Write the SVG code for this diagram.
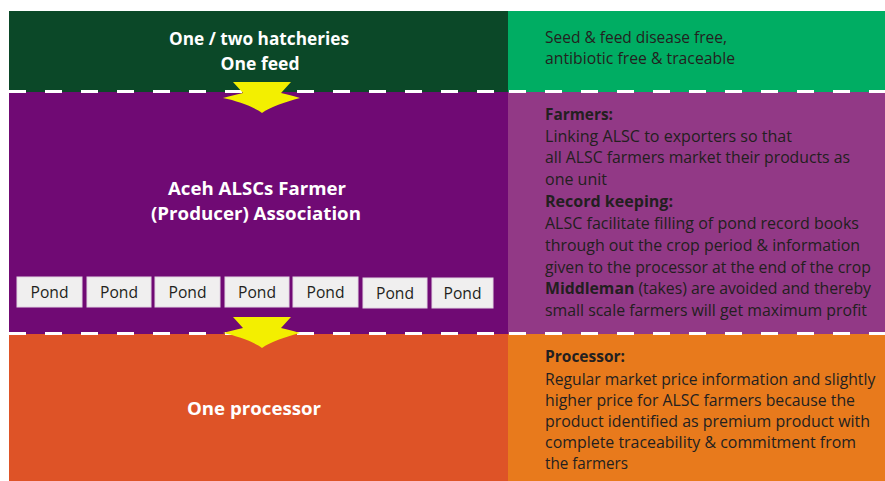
<svg xmlns="http://www.w3.org/2000/svg" width="885" height="481" viewBox="0 0 885 481">
<style>
.h{font-family:"Open Sans","Liberation Sans",sans-serif;font-weight:bold;font-size:18.5px;fill:#ffffff;text-anchor:middle}
.t{font-family:"Open Sans","Liberation Sans",sans-serif;font-size:16.5px;fill:#231f20}
.b{font-weight:bold}
.p{font-family:"Open Sans","Liberation Sans",sans-serif;font-size:16px;fill:#231f20;text-anchor:middle}
.pond{fill:#f0efef;stroke:#e3d5e3;stroke-width:1}
.dash{stroke:#ffffff;stroke-width:3;stroke-dasharray:17 19;fill:none}
.arrow{fill:#f3ef00}
</style>
<rect width="885" height="481" fill="#ffffff"/>
<g id="hatcheries">
<rect x="9" y="11" width="499" height="81" fill="#0b4828"/>
<text class="h" x="259" y="45" textLength="180" lengthAdjust="spacingAndGlyphs">One / two hatcheries</text>
<text class="h" x="260" y="70" textLength="79" lengthAdjust="spacingAndGlyphs">One feed</text>
</g>
<g id="seed-note">
<rect x="508" y="11" width="377" height="81" fill="#00ad63"/>
<text class="t" x="545" y="43" textLength="182" lengthAdjust="spacingAndGlyphs">Seed &amp; feed disease free,</text>
<text class="t" x="545" y="64" textLength="190" lengthAdjust="spacingAndGlyphs">antibiotic free &amp; traceable</text>
</g>
<g id="association">
<rect x="9" y="92" width="499" height="242" fill="#700a74"/>
<text class="h" x="257" y="195" textLength="178" lengthAdjust="spacingAndGlyphs">Aceh ALSCs Farmer</text>
<text class="h" x="256" y="220" textLength="210" lengthAdjust="spacingAndGlyphs">(Producer) Association</text>
</g>
<g id="ponds">
<rect class="pond" x="17" y="277" width="65" height="30"/><text class="p" x="49.5" y="298" textLength="38" lengthAdjust="spacingAndGlyphs">Pond</text>
<rect class="pond" x="87" y="277" width="64" height="30"/><text class="p" x="119" y="298" textLength="38" lengthAdjust="spacingAndGlyphs">Pond</text>
<rect class="pond" x="155" y="277" width="65" height="30"/><text class="p" x="187.5" y="298" textLength="38" lengthAdjust="spacingAndGlyphs">Pond</text>
<rect class="pond" x="225" y="277" width="64" height="30"/><text class="p" x="257" y="298" textLength="38" lengthAdjust="spacingAndGlyphs">Pond</text>
<rect class="pond" x="293" y="277" width="65" height="30"/><text class="p" x="325.5" y="298" textLength="38" lengthAdjust="spacingAndGlyphs">Pond</text>
<rect class="pond" x="363" y="278" width="64" height="30"/><text class="p" x="395" y="299" textLength="38" lengthAdjust="spacingAndGlyphs">Pond</text>
<rect class="pond" x="432" y="278" width="61" height="30"/><text class="p" x="462.5" y="299" textLength="38" lengthAdjust="spacingAndGlyphs">Pond</text>
</g>
<g id="association-note">
<rect x="508" y="92" width="377" height="242" fill="#923986"/>
<text class="t b" x="545" y="120" textLength="68" lengthAdjust="spacingAndGlyphs">Farmers:</text>
<text class="t" x="545" y="142" textLength="247" lengthAdjust="spacingAndGlyphs">Linking ALSC to exporters so that</text>
<text class="t" x="545" y="163" textLength="305" lengthAdjust="spacingAndGlyphs">all ALSC farmers market their products as</text>
<text class="t" x="545" y="185" textLength="62" lengthAdjust="spacingAndGlyphs">one unit</text>
<text class="t b" x="545" y="207" textLength="128" lengthAdjust="spacingAndGlyphs">Record keeping:</text>
<text class="t" x="545" y="229" textLength="314" lengthAdjust="spacingAndGlyphs">ALSC facilitate filling of pond record books</text>
<text class="t" x="545" y="251" textLength="315" lengthAdjust="spacingAndGlyphs">through out the crop period &amp; information</text>
<text class="t" transform="translate(545 273) scale(0.9 1)" x="0" y="0" textLength="362" lengthAdjust="spacingAndGlyphs">given to the processor at the end of the crop</text>
<text class="t" x="545" y="294" textLength="326" lengthAdjust="spacingAndGlyphs"><tspan class="b">Middleman</tspan> (takes) are avoided and thereby</text>
<text class="t" x="545" y="316" textLength="322" lengthAdjust="spacingAndGlyphs">small scale farmers will get maximum profit</text>
</g>
<g id="processor">
<rect x="9" y="334" width="499" height="147" fill="#de5327"/>
<text class="h" x="254" y="415" textLength="134" lengthAdjust="spacingAndGlyphs">One processor</text>
</g>
<g id="processor-note">
<rect x="508" y="334" width="377" height="147" fill="#e87a1c"/>
<text class="t b" x="545" y="362" textLength="80" lengthAdjust="spacingAndGlyphs">Processor:</text>
<text class="t" transform="translate(545 385) scale(0.9 1)" x="0" y="0" textLength="367" lengthAdjust="spacingAndGlyphs">Regular market price information and slightly</text>
<text class="t" x="545" y="406" textLength="310" lengthAdjust="spacingAndGlyphs">higher price for ALSC farmers because the</text>
<text class="t" x="545" y="427" textLength="325" lengthAdjust="spacingAndGlyphs">product identified as premium product with</text>
<text class="t" x="545" y="448" textLength="311" lengthAdjust="spacingAndGlyphs">complete traceability &amp; commitment from</text>
<text class="t" x="545" y="469" textLength="83" lengthAdjust="spacingAndGlyphs">the farmers</text>
</g>
<g id="connectors">
<line class="dash" x1="9" y1="91.5" x2="508" y2="91.5"/>
<line class="dash" x1="509" y1="91.5" x2="885" y2="91.5"/>
<line class="dash" x1="9" y1="333.5" x2="508" y2="333.5"/>
<line class="dash" x1="509" y1="333.5" x2="885" y2="333.5"/>
<path class="arrow" d="M233,82 L291,82 L281,93 C288,95 295,96 300,98 C285,102 270,107 262,113 C254,107 238,101 223,98 C229,96 236,95 243,93 Z"/>
<path class="arrow" d="M233,317 L291,317 L281,328 C288,330 295,331 300,333 C285,337 270,342 262,348 C254,342 238,336 223,333 C229,331 236,330 243,328 Z"/>
</g>
</svg>
